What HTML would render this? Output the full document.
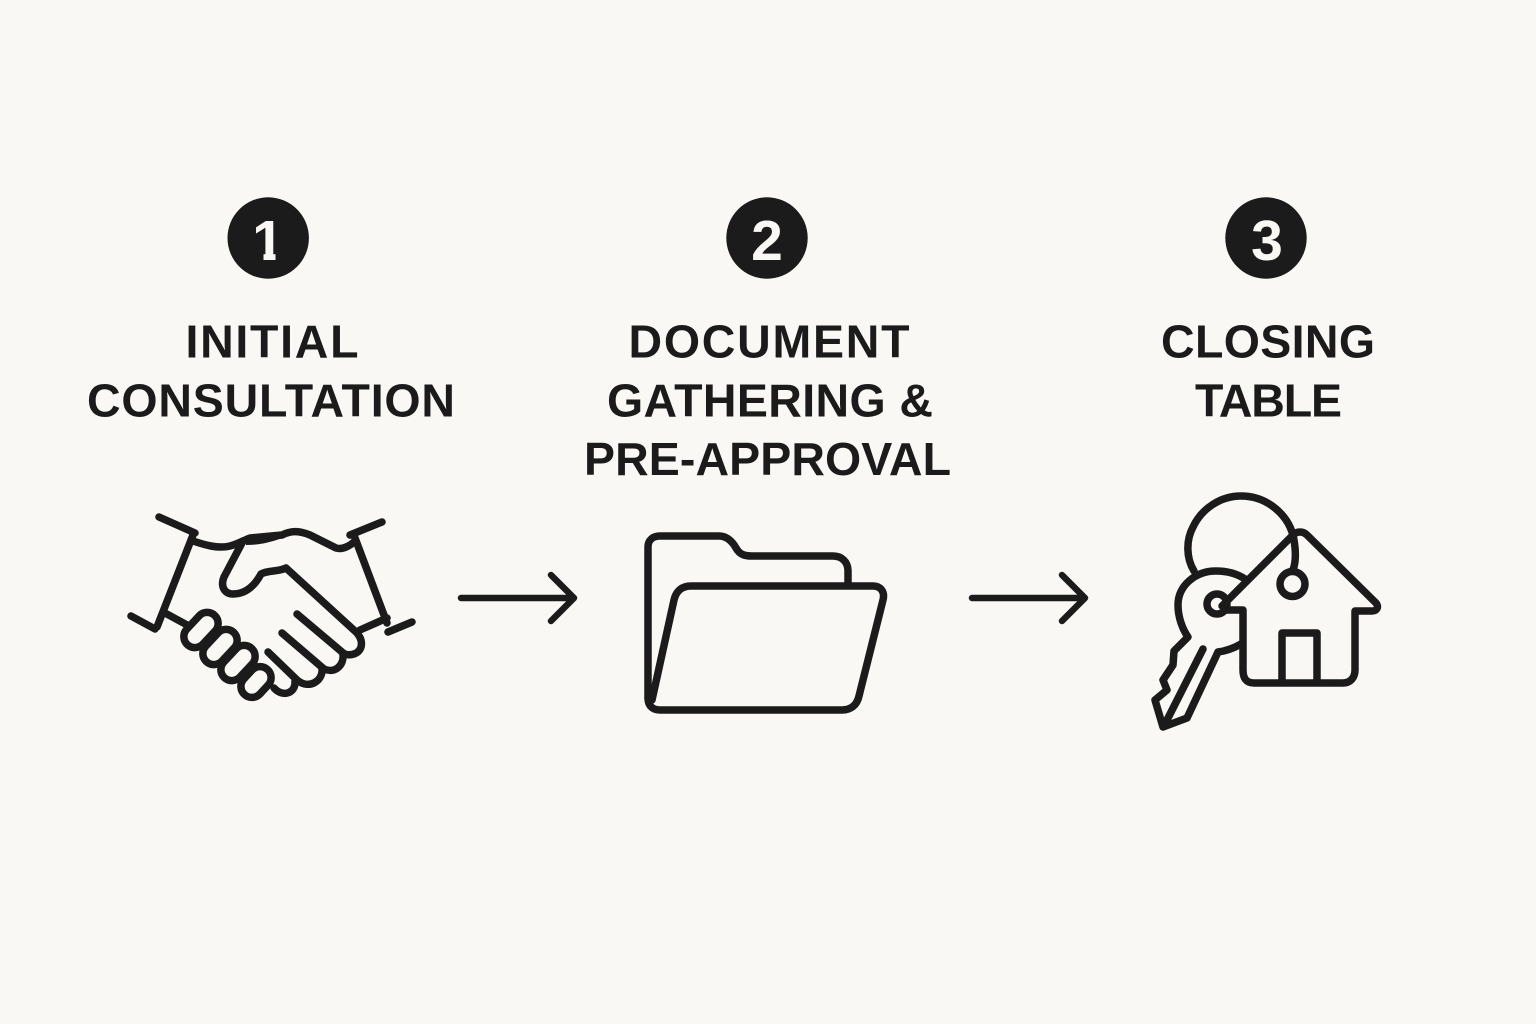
<!DOCTYPE html>
<html>
<head>
<meta charset="utf-8">
<style>
html,body{margin:0;padding:0;background:#f9f8f4;}
svg{display:block;}
text{font-family:"Liberation Sans",sans-serif;font-weight:700;}
.t{font-size:46.5px;fill:#1b1b1b;}
.n{font-size:57px;fill:#f9f8f4;text-anchor:middle;}
.s{fill:none;stroke:#1b1b1b;stroke-width:7.5;stroke-linecap:round;stroke-linejoin:round;}
</style>
</head>
<body>
<svg width="1536" height="1024" viewBox="0 0 1536 1024" xmlns="http://www.w3.org/2000/svg">
<rect width="1536" height="1024" fill="#f9f8f4"/>

<circle cx="268.2" cy="238" r="40.7" fill="#1b1b1b"/>
<circle cx="767" cy="238" r="40.7" fill="#1b1b1b"/>
<circle cx="1266" cy="238" r="40.7" fill="#1b1b1b"/>
<text class="n" x="268" y="260">1</text>
<rect x="248" y="252.5" width="15.5" height="10" fill="#1b1b1b"/>
<rect x="275.5" y="252.5" width="14" height="10" fill="#1b1b1b"/>
<text class="n" x="767" y="260">2</text>
<text class="n" x="1267" y="260">3</text>

<text class="t" x="185.5" y="357.5" textLength="173" lengthAdjust="spacing">INITIAL</text>
<text class="t" x="87" y="416.5" textLength="368" lengthAdjust="spacing">CONSULTATION</text>
<text class="t" x="628.5" y="357.5" textLength="281" lengthAdjust="spacing">DOCUMENT</text>
<text class="t" x="607" y="416.5" textLength="326" lengthAdjust="spacing">GATHERING &amp;</text>
<text class="t" x="584" y="475" textLength="367" lengthAdjust="spacing">PRE-APPROVAL</text>
<text class="t" x="1161" y="357.5" textLength="214" lengthAdjust="spacing">CLOSING</text>
<text class="t" x="1195" y="416.5" textLength="147" lengthAdjust="spacing">TABLE</text>

<!-- arrows -->
<path class="s" style="stroke-width:6.5" d="M461 598H574M551 575L574 598L551 621"/>
<path class="s" style="stroke-width:6.5" d="M972 598H1085M1062 575L1085 598L1062 621"/>

<!-- handshake -->
<path d="M246 538L281 533V538.5C268 543 258 545 246 545Z" fill="#1b1b1b"/>
<g class="s">
<path d="M159 517L195 533M193 535L157 627M131 616L155 629M165 613L189 626"/>
<path d="M193 541C205 545 218 549 230 546C238 544 244 540 250 538L282 535C292 530 300 531 310 535L336 548C342 550 350 546 355 541"/>
<path d="M350 535L382 522M355 538L387 623M388 632L412 622M360 630L387 618"/>
<path d="M243 541L224 577C220 587 225 594 233 594C245 594 254 587 261 574C268 570 278 572 286 568L356 632C364 640 363 651 354 654C349 655.5 345 655 342 652L297 614"/>
<path d="M343 655C344 665 335 674 324 669L282 633"/>
<path d="M322 669C323 681 309 690 297 680L268 652"/>
<path d="M295 681C296 693 283 698 274 688"/>
<rect x="181" y="619" width="40" height="22" rx="11" transform="rotate(-47 201 630)"/>
<rect x="200" y="636" width="40" height="22" rx="11" transform="rotate(-47 220 647)"/>
<rect x="218" y="652" width="40" height="22" rx="11" transform="rotate(-47 238 663)"/>
<rect x="239" y="671" width="34" height="22" rx="11" transform="rotate(-47 256 682)"/>
</g>

<!-- folder -->
<g class="s">
<path d="M648 698V547C648 540 653 536 660 536H719C727 536 732 541 736 548C740 555 745 556 752 556H833C842 556 848 562 848 571V584"/>
<path d="M652 700L674 600C676 591 682 586 691 586H873C881 586 885 592 883 600L859 696C857 705 851 710 842 710H660C651 710 648 704 648 698"/>
</g>

<!-- house and key -->
<g class="s">
<path d="M1194 571C1186 558 1186 540 1193 527C1202 508 1221 496 1241 496C1268 496 1290 516 1294 540C1296 552 1296 562 1293 570"/>
<circle cx="1292.5" cy="584" r="12.5"/>
<path d="M1222 606L1293 535C1297 531 1303 531 1307 535L1376 603C1379 607 1377 611 1372 611H1355V670C1355 678 1350 683 1343 683H1254C1246 683 1243 678 1243 670V610H1226"/>
<path d="M1282 682V633H1317V682"/>
<path d="M1245 579C1236 573 1226 571 1216 571C1195 571 1178 586 1178 605C1178 618 1183 630 1188 637L1174 651L1173 665L1163 680L1167 690L1155 700L1163 727L1187 718L1218 652C1226 651 1234 648 1241 644"/>
<path d="M1203 649L1166 722"/>
<circle cx="1217" cy="604" r="10"/>
</g>
</svg>
</body>
</html>
